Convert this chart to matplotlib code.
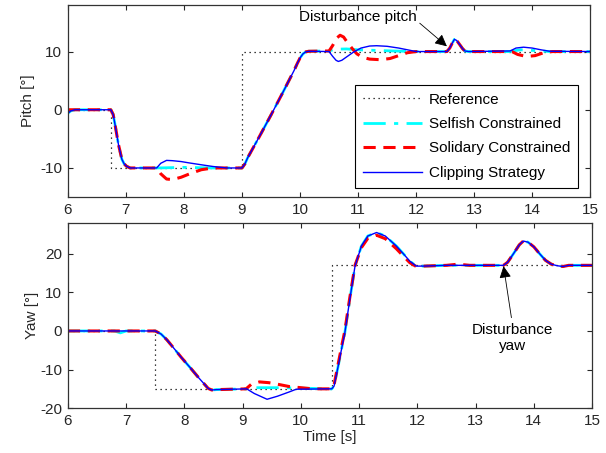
import numpy as np
import matplotlib.pyplot as plt

plt.rcParams['font.family'] = ['Liberation Sans', 'DejaVu Sans']
plt.rcParams['font.size'] = 11
plt.rcParams['axes.unicode_minus'] = False

# ---- Pitch data ----
pitch_ref_t = [6.0, 6.75, 6.75, 9.0, 9.0, 15.0]
pitch_ref = [0, 0, -10, -10, 10, 10]

ramp_t = [9.0, 9.05, 9.1, 9.2, 9.3, 9.5, 9.7, 9.9, 9.95, 10.0, 10.05, 10.1, 10.15]
ramp_y = [-10, -9.3, -8.2, -6.4, -4.6, -0.9, 2.9, 6.8, 7.9, 8.9, 9.6, 9.95, 10.05]

drop_t = [6.74, 6.78, 6.81, 6.87, 6.93, 6.97, 7.01, 7.07]
drop_y = [0, -0.8, -2.4, -5.9, -8.5, -9.3, -9.7, -10]

dist_t = [12.53, 12.58, 12.62, 12.66, 12.7, 12.75, 12.8, 12.84, 12.9]
dist_y = [10, 10.6, 11.4, 12.1, 11.9, 11.2, 10.5, 10.1, 10]

pitch_self_t = [6.0, 6.05, 6.12] + drop_t + [7.55, 8.0, 8.5] + ramp_t + \
    [10.5, 10.6, 10.8, 11.0, 11.3, 11.6, 12.0] + dist_t + \
    [13.6, 13.8, 14.0, 14.3, 15.0]
pitch_self = [-0.6, -0.2, 0] + drop_y + [-10, -9.9, -10] + ramp_y + \
    [10.1, 10.4, 10.45, 10.3, 10.2, 10.1, 10] + dist_y + \
    [10, 10.3, 10.2, 10, 10]

pitch_sol_t = [6.0] + drop_t + [7.53, 7.6, 7.7, 7.8, 7.95, 8.1, 8.3, 8.5] + ramp_t + \
    [10.5, 10.56, 10.63, 10.69, 10.75, 10.82, 10.9, 10.98, 11.08, 11.2, 11.38,
     11.55, 11.7, 11.85, 12.0] + dist_t + \
    [13.65, 13.75, 13.9, 14.05, 14.2, 14.35, 15.0]
pitch_sol = [0] + drop_y + [-10, -11.0, -11.9, -12.0, -11.6, -11.0, -10.3, -10.0] + ramp_y + \
    [10.1, 11.0, 12.3, 12.8, 12.5, 11.5, 10.5, 9.6, 9.0, 8.7, 8.6,
     8.8, 9.3, 9.8, 10] + dist_y + \
    [10, 9.5, 9.15, 9.3, 9.8, 10, 10]

pitch_clip_t = [6.0, 6.05, 6.12] + drop_t + [7.53, 7.6, 7.7, 7.8, 7.95, 8.1, 8.33, 8.5, 8.74] + ramp_t + \
    [10.5, 10.56, 10.62, 10.66, 10.72, 10.82, 10.92, 11.05, 11.2, 11.32, 11.5,
     11.7, 11.85, 12.0] + dist_t + \
    [13.62, 13.72, 13.85, 14.0, 14.15, 14.3, 15.0]
pitch_clip = [-0.6, -0.2, 0] + drop_y + [-10, -9.2, -8.7, -8.75, -8.9, -9.15, -9.5, -9.75, -10] + ramp_y + \
    [10.0, 9.2, 8.5, 8.3, 8.5, 9.2, 9.9, 10.6, 10.95, 11.0, 10.9,
     10.6, 10.3, 10] + dist_y + \
    [10.1, 10.6, 10.75, 10.6, 10.3, 10.05, 10]

# ---- Yaw data ----
yaw_ref_t = [6.0, 7.5, 7.5, 10.53, 10.53, 15.0]
yaw_ref = [0, 0, -15, -15, 17, 17]

ydown_t = [7.5, 7.6, 7.7, 7.81, 7.95, 8.1, 8.25, 8.41, 8.47, 8.55]
ydown_y = [0, -0.8, -2.3, -4.3, -6.9, -9.5, -12.2, -14.9, -15.3, -15.2]

yup_t = [10.53, 10.57, 10.64, 10.7, 10.755, 10.84, 10.93, 11.04, 11.15, 11.3,
         11.45, 11.64, 11.76, 11.87, 11.98, 12.1]
yup_y = [-15, -14.3, -9.2, -4.6, -0.5, 8.1, 16.8, 22.0, 24.6, 25.5,
         24.6, 22.0, 20.0, 18.1, 16.8, 16.8]

ydist_t = [13.48, 13.55, 13.65, 13.75, 13.82, 13.9, 14.0, 14.1, 14.2, 14.3, 14.4, 14.5, 14.6]
ydist_y = [17, 17.8, 20.0, 22.3, 23.3, 23.0, 21.8, 20.0, 18.3, 17.3, 16.9, 16.7, 17]

yaw_self_t = [6.0, 6.8, 6.9, 7.0] + ydown_t + [9.05, 9.2, 9.6, 10.0, 10.45] + yup_t + \
    [12.5] + ydist_t + [15.0]
yaw_self = [0, 0, -0.5, 0] + ydown_y + [-15, -14.7, -14.7, -14.8, -15] + yup_y + \
    [17] + ydist_y + [17]

yaw_sol_t = [6.0, 7.0] + ydown_t + [9.06, 9.15, 9.29, 9.45, 9.6, 9.8, 10.0, 10.2, 10.45] + \
    yup_t + [12.5, 12.7, 12.9] + ydist_t + [15.0]
yaw_sol = [0, 0] + ydown_y + [-15, -13.8, -13.2, -13.4, -13.8, -14.4, -14.7, -15, -15] + \
    [-15, -14.0, -8.6, -4.0, 0.0, 8.6, 17.0, 21.6, 24.0, 24.8,
     23.9, 21.3, 19.4, 17.7, 16.7, 16.8] + [17, 17.3, 17] + ydist_y + [17]

yaw_clip_t = [6.0, 7.0] + ydown_t + [9.07, 9.2, 9.42, 9.6, 9.8, 9.92, 10.45] + yup_t + \
    [12.5] + ydist_t + [15.0]
yaw_clip = [0, 0] + ydown_y + [-15, -16.2, -17.7, -16.9, -15.8, -15.1, -15] + yup_y + \
    [17] + ydist_y + [17]

labels = ['Reference', 'Selfish Constrained', 'Solidary Constrained', 'Clipping Strategy']

fig = plt.figure(figsize=(6.06, 4.53), dpi=100)
ax1 = fig.add_axes([0.112, 0.565, 0.862, 0.424])
ax2 = fig.add_axes([0.112, 0.099, 0.865, 0.409])

for ax, data in [(ax1, (pitch_ref_t, pitch_ref, pitch_self_t, pitch_self, pitch_sol_t, pitch_sol,
                        pitch_clip_t, pitch_clip)),
                 (ax2, (yaw_ref_t, yaw_ref, yaw_self_t, yaw_self, yaw_sol_t, yaw_sol,
                        yaw_clip_t, yaw_clip))]:
    ax.plot(data[0], data[1], color='k', linestyle=(0, (1, 3)), lw=0.9, label=labels[0])
    ax.plot(data[2], data[3], color='#00ffff', linestyle=(0, (8, 3, 1.5, 3)), lw=2.0, label=labels[1])
    ax.plot(data[4], data[5], color='#ff0000', linestyle=(0, (4, 2.5)), lw=2.2, label=labels[2])
    ax.plot(data[6], data[7], color='#0000ff', lw=1.0, label=labels[3])
    ax.set_xlim(6, 15)
    ax.set_xticks(range(6, 16))
    ax.tick_params(direction='in', top=True, right=True, length=3.5, width=0.8,
                   labelsize=11, colors='#262626', pad=4)
    for s in ax.spines.values():
        s.set_color('#333333')
        s.set_linewidth(0.9)

ax1.set_ylim(-15, 18)
ax1.set_yticks([-10, 0, 10])
ax1.set_ylabel('Pitch [°]', color='#262626', labelpad=4)
ax2.set_ylim(-20, 28)
ax2.set_yticks([-20, -10, 0, 10, 20])
ax2.set_ylabel('Yaw [°]', color='#262626', labelpad=1)
ax2.set_xlabel('Time [s]', color='#262626', labelpad=2)

leg = ax1.legend(loc='upper left', bbox_to_anchor=(0.55, 0.583), borderaxespad=0,
                 handlelength=3.9, labelspacing=0.68, fancybox=False, framealpha=1,
                 edgecolor='k', borderpad=0.5, handletextpad=0.4, fontsize=11)
leg.get_frame().set_linewidth(0.8)

ax1.annotate('Disturbance pitch', xy=(12.53, 10.9), xytext=(11.0, 16.0),
             ha='center', va='center', fontsize=11,
             arrowprops=dict(arrowstyle='-|>', color='k', lw=0.6, mutation_scale=18,
                             shrinkA=0, shrinkB=0, relpos=(1.0, 0.2)))
ax2.annotate('Disturbance\nyaw', xy=(13.48, 16.8), xytext=(13.63, -1.9),
             ha='center', va='center', fontsize=11, linespacing=1.2,
             arrowprops=dict(arrowstyle='-|>', color='k', lw=0.6, mutation_scale=18,
                             shrinkA=2, shrinkB=0, relpos=(0.5, 1.0)))

fig.savefig('out.png', dpi=100)
